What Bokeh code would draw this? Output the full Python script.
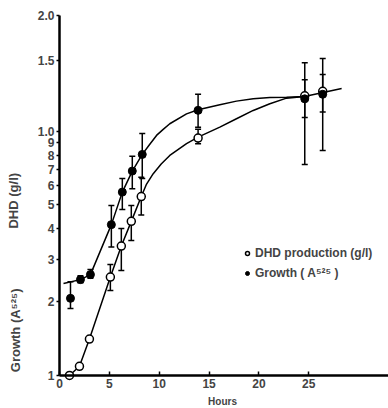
import math
from bokeh.plotting import figure
from bokeh.models import (Range1d, FixedTicker, Whisker, TeeHead, ColumnDataSource,
                          Label, Legend, LegendItem)
from bokeh.embed import file_html
from bokeh.resources import INLINE

# ---- data ----
hours_dhd = [1.0, 2.0, 3.0, 5.1, 6.2, 7.2, 8.2, 13.9, 24.6, 26.4]
dhd = [1.0, 1.09, 1.41, 2.53, 3.39, 4.28, 5.41, 9.39, 14.0, 14.6]
dhd_lo = [None, None, None, 2.23, 2.69, 3.57, 4.55, 8.91, 11.4, 12.0]
dhd_hi = [None, None, None, 2.85, 4.0, 4.97, 6.49, 10.2, 16.3, 17.1]

hours_growth = [1.1, 2.1, 3.1, 5.2, 6.3, 7.3, 8.3, 13.9, 24.6, 26.4]
growth = [2.07, 2.47, 2.59, 4.15, 5.64, 6.88, 8.05, 12.2, 13.6, 14.2]
growth_lo = [1.88, 2.40, 2.50, 3.36, 4.79, 5.82, 6.42, 10.4, 7.32, 8.36]
growth_hi = [2.42, 2.56, 2.72, 4.97, 6.42, 7.92, 9.81, 14.2, 19.1, 19.9]

# fitted curves as drawn in the figure
curve_dhd_h = [1.0, 2.0, 3.0, 5.1, 6.2, 7.2, 8.2, 8.7, 9.4, 10.2, 11.06, 12.74, 13.9,
               16.08, 17.75, 19.43, 21.1, 22.77, 24.57]
curve_dhd_v = [1.0, 1.09, 1.41, 2.53, 3.39, 4.28, 5.41, 6.05, 6.71, 7.35, 7.97, 8.91, 9.48,
               10.41, 11.27, 12.19, 12.99, 13.69, 13.9]
curve_gr_h = [0.4, 2.1, 3.1, 5.2, 6.3, 7.3, 8.3, 9.0, 9.73, 10.4, 11.06, 12.74, 13.9,
              16.08, 17.75, 19.43, 21.1, 22.77, 24.57, 28.3]
curve_gr_v = [2.38, 2.47, 2.59, 4.15, 5.64, 6.88, 8.05, 8.8, 9.63, 10.2, 10.75, 11.8, 12.27,
              12.86, 13.31, 13.62, 13.78, 13.82, 13.9, 15.0]

y_tick_vals = [1, 2, 3, 4, 5, 6, 7, 8, 9, 10, 19.5, 30]
y_tick_labels = ["1", "2", "3", "4", "5", "6", "7", "8", "9", "1.0", "1.5", "2.0"]
x_tick_vals = [0, 5, 10, 15, 20, 25]
x_tick_labels = ["0", "5", "10", "15", "20", "25"]

FONT = "Liberation Sans"

p = figure(width=388, height=408, y_axis_type="log",
           x_range=Range1d(-5.92, 33.0), y_range=Range1d(0.732, 34.4),
           output_backend="svg", toolbar_location=None,
           min_border_left=0, min_border_right=0, min_border_top=0, min_border_bottom=0,
           background_fill_color="white", border_fill_color="white")
p.outline_line_color = None
p.grid.visible = False

# axes (placed at x=0 and y=1 inside the frame)
xa = p.xaxis[0]
xa.fixed_location = 1.0
xa.bounds = (0, 33)
xa.ticker = FixedTicker(ticks=x_tick_vals)
xa.major_label_overrides = {v: l for v, l in zip(x_tick_vals, x_tick_labels)}
xa.minor_tick_line_color = None
xa.major_tick_in = 4
xa.major_tick_out = 0
xa.major_label_standoff = 4
xa.axis_line_width = 2.5
xa.major_tick_line_width = 1.5
xa.major_label_text_font = FONT
xa.major_label_text_font_size = "12px"
xa.major_label_text_font_style = "bold"

ya = p.yaxis[0]
ya.fixed_location = 0
ya.bounds = (1, 30)
ya.ticker = FixedTicker(ticks=y_tick_vals)
ya.major_label_overrides = {v: l for v, l in zip(y_tick_vals, y_tick_labels)}
ya.minor_tick_line_color = None
ya.major_tick_in = 0
ya.major_tick_out = 3
ya.major_label_standoff = 2
ya.axis_line_width = 2.5
ya.major_tick_line_width = 1.5
ya.major_label_text_font = FONT
ya.major_label_text_font_size = "12px"
ya.major_label_text_font_style = "bold"

# curves
p.line(curve_dhd_h, curve_dhd_v, line_color="black", line_width=1.5)
p.line(curve_gr_h, curve_gr_v, line_color="black", line_width=1.5)

# error bars
def err_source(h, lo, hi):
    rows = [(a, b, c) for a, b, c in zip(h, lo, hi) if b is not None]
    return ColumnDataSource(dict(h=[r[0] for r in rows], lo=[r[1] for r in rows],
                                 hi=[r[2] for r in rows]))

for src in (err_source(hours_dhd, dhd_lo, dhd_hi),
            err_source(hours_growth, growth_lo, growth_hi)):
    w = Whisker(source=src, base="h", lower="lo", upper="hi", line_width=1.5,
                line_color="black",
                lower_head=TeeHead(size=6, line_width=1.5, line_color="black"),
                upper_head=TeeHead(size=6, line_width=1.5, line_color="black"))
    w.level = "underlay"
    p.add_layout(w)

r_dhd = p.scatter(hours_dhd, dhd, marker="circle", size=8, fill_color="white",
                  line_color="black", line_width=1.5)
r_gr = p.scatter(hours_growth, growth, marker="circle", size=8, fill_color="black",
                 line_color="black", line_width=1)

legend = Legend(items=[LegendItem(label="DHD production (g/l)", renderers=[r_dhd]),
                       LegendItem(label="Growth ( A⁵²⁵ )", renderers=[r_gr])],
                location=(242, 128), glyph_width=10, glyph_height=10, label_standoff=3,
                padding=0, margin=0, spacing=6, label_height=12,
                border_line_color=None, background_fill_alpha=0,
                label_text_font=FONT, label_text_font_size="12px",
                label_text_font_style="bold")
p.add_layout(legend)

p.add_layout(Label(x=-4.6, y=5.2, text="DHD (g/l)", angle=math.pi / 2,
                   text_align="center", text_baseline="middle", text_font=FONT,
                   text_font_size="13px", text_font_style="bold"))
p.add_layout(Label(x=-4.4, y=1.53, text="Growth (A⁵²⁵)", angle=math.pi / 2,
                   text_align="center", text_baseline="middle", text_font=FONT,
                   text_font_size="13px", text_font_style="bold"))
p.add_layout(Label(x=16.35, y=0.785, text="Hours", text_align="center",
                   text_baseline="middle", text_font=FONT,
                   text_font_size="10px", text_font_style="bold"))

open("out.html", "w").write(file_html(p, INLINE))
